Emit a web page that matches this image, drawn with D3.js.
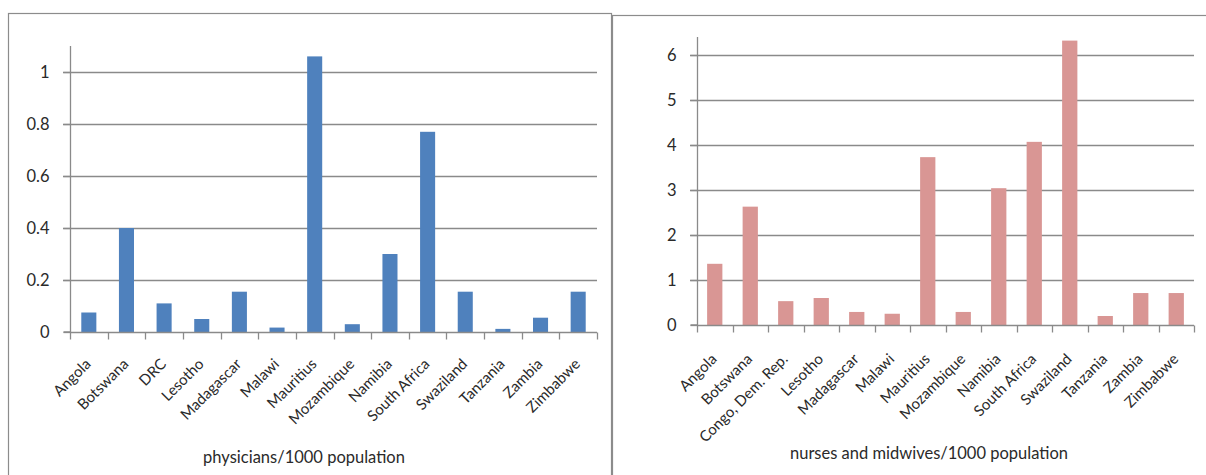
<!DOCTYPE html>
<html><head><meta charset="utf-8">
<script src="https://cdn.jsdelivr.net/npm/d3@7"></script>
<style>
body{margin:0;background:#fff;}
svg{display:block;font-family:Lato,"Liberation Sans",sans-serif;}
</style></head><body>
<svg id="c" width="1206" height="475"></svg>
<script>
const physCountries = ["Angola","Botswana","DRC","Lesotho","Madagascar","Malawi","Mauritius","Mozambique","Namibia","South Africa","Swaziland","Tanzania","Zambia","Zimbabwe"];
const physValues = [0.075,0.40,0.11,0.05,0.155,0.017,1.06,0.03,0.30,0.77,0.155,0.012,0.055,0.155];
const physTicks = [0,0.2,0.4,0.6,0.8,1];
const physTickLabels = ["0","0.2","0.4","0.6","0.8","1"];
const physTitle = "physicians/1000 population";

const nurseCountries = ["Angola","Botswana","Congo, Dem. Rep.","Lesotho","Madagascar","Malawi","Mauritius","Mozambique","Namibia","South Africa","Swaziland","Tanzania","Zambia","Zimbabwe"];
const nurseValues = [1.36,2.63,0.53,0.60,0.29,0.25,3.73,0.29,3.04,4.07,6.32,0.20,0.71,0.71];
const nurseTicks = [0,1,2,3,4,5,6];
const nurseTickLabels = ["0","1","2","3","4","5","6"];
const nurseTitle = "nurses and midwives/1000 population";

const svg = d3.select("#c");
const grid = "#8a8a8a";
const ink = "#2a2a2a";

// panel frames
svg.append("rect").attr("x",8.5).attr("y",13.5).attr("width",603).attr("height",480)
  .attr("fill","#fff").attr("stroke","#8c8c8c").attr("stroke-width",1.2);
svg.append("rect").attr("x",612.5).attr("y",15.5).attr("width",620).attr("height",480)
  .attr("fill","#fff").attr("stroke","#8c8c8c").attr("stroke-width",1.2);

function panel(cfg){
  const g = svg.append("g");
  const x = d3.scaleBand().domain(cfg.cats).range([cfg.x0,cfg.x1]).paddingInner(cfg.pad).paddingOuter(cfg.pad/2);
  const xb = d3.scaleBand().domain(cfg.cats).range([cfg.x0,cfg.x1]);
  const y = d3.scaleLinear().domain([0,cfg.max]).range([cfg.y0,cfg.ytop]);

  // gridlines
  g.append("g").selectAll("line").data(cfg.ticks.filter(t=>t>0)).join("line")
    .attr("x1",cfg.x0-7).attr("x2",cfg.x1).attr("y1",d=>Math.round(y(d))+0.5).attr("y2",d=>Math.round(y(d))+0.5)
    .attr("stroke",grid).attr("stroke-width",1.3);

  // bars
  g.append("g").selectAll("rect").data(cfg.vals).join("rect")
    .attr("x",(d,i)=>x(cfg.cats[i])).attr("width",x.bandwidth())
    .attr("y",d=>y(d)).attr("height",d=>cfg.y0-y(d)).attr("fill",cfg.color);

  // y axis
  const ya = d3.axisLeft(y).tickValues(cfg.ticks).tickFormat((d,i)=>cfg.tickLabels[i]).tickSize(7).tickPadding(14);
  const yg = g.append("g").attr("transform",`translate(${cfg.x0+0.5},0)`).call(ya);
  yg.select(".domain").attr("stroke",grid).attr("stroke-width",1.3).attr("d",`M-7,${cfg.y0}H0V${cfg.ytop}`);
  yg.selectAll(".tick line").attr("stroke",grid).attr("stroke-width",1.3);
  yg.selectAll(".tick text").attr("font-size",16.5).attr("fill",ink).attr("font-family","Lato");

  // x axis
  const xa = d3.axisBottom(xb).tickSize(0).tickFormat("");
  const xg = g.append("g").attr("transform",`translate(0,${cfg.y0+0.5})`).call(xa);
  xg.select(".domain").attr("stroke",grid).attr("stroke-width",1.3).attr("d",`M${cfg.x0},0H${cfg.x1}`);
  xg.selectAll(".tick").remove();
  // category boundary ticks
  const bounds = cfg.cats.map(c=>xb(c)).concat([cfg.x1]);
  xg.append("g").selectAll("line").data(bounds).join("line")
    .attr("x1",d=>Math.round(d)+0.5).attr("x2",d=>Math.round(d)+0.5).attr("y1",0).attr("y2",7)
    .attr("stroke",grid).attr("stroke-width",1.3);
  // labels
  g.append("g").selectAll("text").data(cfg.cats).join("text")
    .attr("transform",d=>`translate(${xb(d)+xb.bandwidth()/2+cfg.lx},${cfg.y0+cfg.ly}) rotate(-45)`)
    .attr("text-anchor","end").attr("font-size",15).attr("fill",ink).text(d=>d);

  g.append("text").attr("x",cfg.tx).attr("y",cfg.ty).attr("text-anchor","middle")
    .attr("font-size",16.5).attr("fill",ink).text(cfg.title);
}

panel({cats:physCountries, vals:physValues, ticks:physTicks, tickLabels:physTickLabels, title:physTitle,
  x0:70, x1:597, y0:332, ytop:46, max:1.1, pad:0.6, color:"#4f81bd", lx:3, ly:33, tx:304, ty:463});
panel({cats:nurseCountries, vals:nurseValues, ticks:nurseTicks, tickLabels:nurseTickLabels, title:nurseTitle,
  x0:697, x1:1194, y0:325, ytop:37, max:6.4, pad:0.57, color:"#d99694", lx:3, ly:35, tx:929, ty:459});
</script>
</body></html>
